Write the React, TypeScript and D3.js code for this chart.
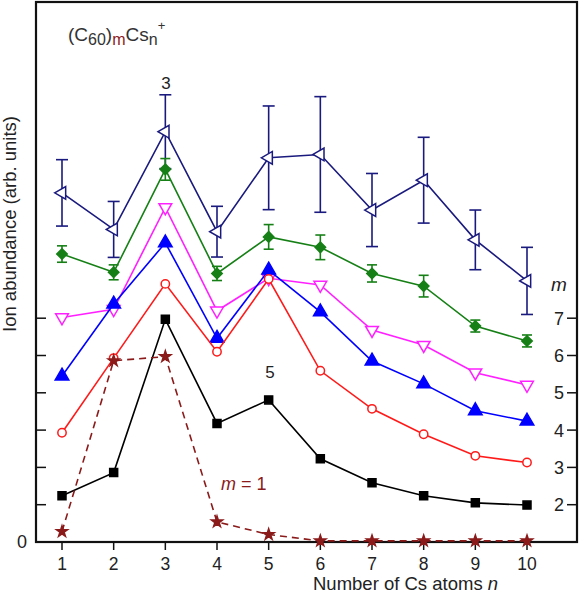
import React from "react";
import * as d3 from "d3";

const nValues = [1, 2, 3, 4, 5, 6, 7, 8, 9, 10];
const xTickLabels = ["1", "2", "3", "4", "5", "6", "7", "8", "9", "10"];
const rightTickLabels = ["2", "3", "4", "5", "6", "7"];

const m1 = [0.28, 4.86, 4.97, 0.54, 0.2, 0.03, 0.03, 0.03, 0.03, 0.03];
const m2 = [1.24, 1.86, 5.97, 3.18, 3.81, 2.23, 1.59, 1.24, 1.05, 0.99];
const m3 = [2.93, 4.93, 6.92, 5.1, 7.05, 4.59, 3.57, 2.89, 2.31, 2.13];
const m4 = [4.45, 6.38, 8.02, 5.46, 7.29, 6.17, 4.85, 4.24, 3.52, 3.24];
const m5 = [6.02, 6.24, 8.97, 6.2, 7.07, 6.89, 5.68, 5.28, 4.54, 4.21];
const m6 = [7.72, 7.23, 9.99, 7.2, 8.18, 7.9, 7.2, 6.86, 5.79, 5.39];
const m6err = [0.22, 0.2, 0.29, 0.19, 0.33, 0.33, 0.23, 0.29, 0.16, 0.16];
const m7 = [9.36, 8.38, 11.0, 8.32, 10.3, 10.39, 8.9, 9.7, 8.1, 7.0];
const m7err = [0.89, 0.75, 0.99, 0.68, 1.39, 1.55, 0.98, 1.15, 0.8, 0.9];

type Series = {
  values: number[];
  err?: number[];
  color: string;
  symbol: d3.SymbolType;
  size: number;
  filled: boolean;
  dashed?: boolean;
  rotate?: number;
};

const series: Series[] = [
  { values: m7, err: m7err, color: "#1a1a7e", symbol: d3.symbolTriangle, size: 70, filled: false, rotate: -90 },
  { values: m6, err: m6err, color: "#168016", symbol: d3.symbolDiamond2, size: 70, filled: true },
  { values: m5, color: "#ff20ff", symbol: d3.symbolTriangle, size: 70, filled: false, rotate: 180 },
  { values: m4, color: "#0000ff", symbol: d3.symbolTriangle, size: 80, filled: true },
  { values: m3, color: "#ff1a1a", symbol: d3.symbolCircle, size: 55, filled: false },
  { values: m2, color: "#000000", symbol: d3.symbolSquare, size: 64, filled: true },
  { values: m1, color: "#8b1a1a", symbol: d3.symbolStar, size: 38, filled: true, dashed: true },
];

const FONT = "'Liberation Sans', Arial, sans-serif";

export default function App() {
  const left = 36;
  const right = 577;
  const top = 2;
  const bottom = 542;
  const x = d3.scaleLinear().domain([1, 10]).range([62, 527]);
  const y = d3.scaleLinear().domain([0, 540 / 37.3]).range([bottom, top]);
  const line = d3
    .line<number>()
    .x((_, i) => x(nValues[i]))
    .y((d) => y(d));
  const yTicks = [1, 2, 3, 4, 5, 6];
  const txt = "#222";

  return (
    <svg
      width={580}
      height={595}
      style={{ position: "absolute", left: 0, top: 0, background: "#fff" }}
      fontFamily={FONT}
    >
      <rect x={0} y={0} width={580} height={595} fill="#fff" />
      <rect x={left} y={top} width={right - left} height={bottom - top} fill="none" stroke="#111" strokeWidth={2.2} />

      {yTicks.map((t) => (
        <line key={"l" + t} x1={left} x2={left + 10} y1={y(t)} y2={y(t)} stroke="#111" strokeWidth={1.5} />
      ))}
      <text x={22} y={y(0) + 6} fontSize={18} textAnchor="middle" fill={txt}>0</text>

      {yTicks.map((t, i) => (
        <g key={"r" + t}>
          <line x1={right - 10} x2={right} y1={y(t)} y2={y(t)} stroke="#111" strokeWidth={1.5} />
          <text x={559} y={y(t) + 6.5} fontSize={18} textAnchor="middle" fill={txt}>{rightTickLabels[i]}</text>
        </g>
      ))}
      <text x={559} y={y(6.86) + 5} fontSize={19} fontStyle="italic" textAnchor="middle" fill={txt}>m</text>

      {nValues.map((n, i) => (
        <g key={"x" + n}>
          <line x1={x(n)} x2={x(n)} y1={bottom} y2={bottom + 8} stroke="#111" strokeWidth={1.5} />
          <text x={x(n)} y={570} fontSize={17.5} textAnchor="middle" fill={txt}>{xTickLabels[i]}</text>
        </g>
      ))}
      <text x={313} y={590} fontSize={18.5} fill={txt}>
        Number of Cs atoms <tspan fontStyle="italic">n</tspan>
      </text>
      <text transform={`translate(16,224) rotate(-90)`} fontSize={18.5} textAnchor="middle" fill={txt}>
        Ion abundance (arb. units)
      </text>

      {series.map((s, si) => (
        <g key={"s" + si}>
          <path
            d={line(s.values) || ""}
            fill="none"
            stroke={s.color}
            strokeWidth={1.6}
            strokeDasharray={s.dashed ? "7,5" : undefined}
          />
          {s.err &&
            s.values.map((v, i) => {
              const cx = x(nValues[i]);
              const e = s.err![i];
              const hw = si === 0 ? 6 : 5;
              return (
                <g key={"e" + i} stroke={s.color} strokeWidth={1.6}>
                  <line x1={cx} x2={cx} y1={y(v - e)} y2={y(v + e)} />
                  <line x1={cx - hw} x2={cx + hw} y1={y(v - e)} y2={y(v - e)} />
                  <line x1={cx - hw} x2={cx + hw} y1={y(v + e)} y2={y(v + e)} />
                </g>
              );
            })}
          {s.values.map((v, i) => {
            const sym = d3.symbol().type(s.symbol).size(s.size)();
            return (
              <path
                key={"p" + i}
                d={sym || ""}
                transform={`translate(${x(nValues[i])},${y(v)}) rotate(${s.rotate || 0})`}
                fill={s.filled ? s.color : "#fff"}
                stroke={s.color}
                strokeWidth={1.5}
              />
            );
          })}
        </g>
      ))}

      <text x={68} y={41} fontSize={19} fill="#333">
        (C<tspan fontSize={16} dy={4}>60</tspan>
        <tspan dy={-4}>)</tspan>
        <tspan fontSize={16} dy={4} fill="#8b1a1a">m</tspan>
        <tspan dy={-4}>Cs</tspan>
        <tspan fontSize={16} dy={4}>n</tspan>
        <tspan fontSize={13} dy={-15}>+</tspan>
      </text>
      <text x={166} y={89} fontSize={17} textAnchor="middle" fill={txt}>3</text>
      <text x={270} y={378} fontSize={17} textAnchor="middle" fill={txt}>5</text>
      <text x={221} y={490} fontSize={18} fill="#8b1a1a">
        <tspan fontStyle="italic">m</tspan> = 1
      </text>
    </svg>
  );
}
